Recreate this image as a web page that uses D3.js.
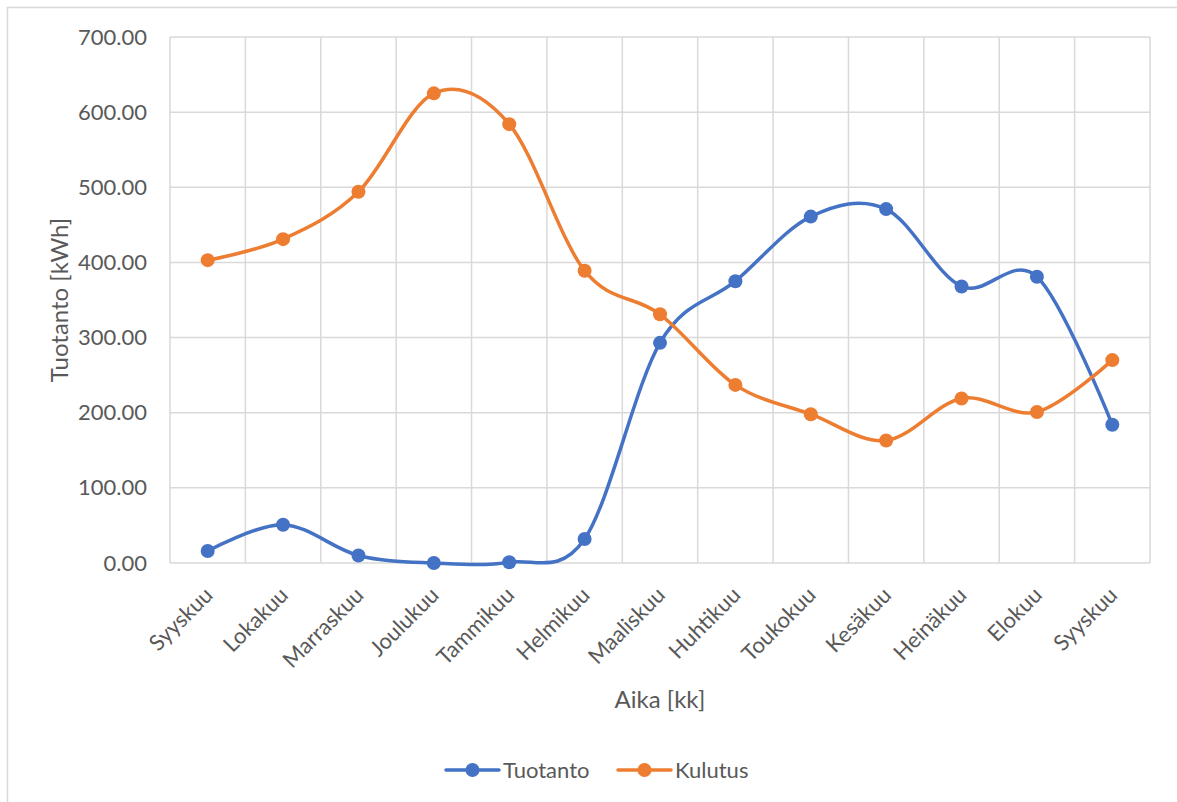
<!DOCTYPE html>
<html>
<head>
<meta charset="utf-8">
<script src="https://cdn.jsdelivr.net/npm/d3@7"></script>
<style>
  html, body { margin: 0; padding: 0; background: #fff; }
  svg { display: block; font-family: Lato, "Open Sans", sans-serif; }
</style>
</head>
<body>
<svg id="chart" width="1177" height="802"></svg>
<script>
// Monthly energy: production vs consumption (kWh)
const months = ["Syyskuu", "Lokakuu", "Marraskuu", "Joulukuu", "Tammikuu", "Helmikuu",
  "Maaliskuu", "Huhtikuu", "Toukokuu", "Kesäkuu", "Heinäkuu", "Elokuu", "Syyskuu"];
const tuotanto = [16, 51, 10, 0, 1, 32, 293, 375, 461, 471, 368, 381, 184];
const kulutus = [403, 431, 494, 625, 584, 389, 331, 237, 198, 163, 219, 201, 270];
const yTicks = [0, 100, 200, 300, 400, 500, 600, 700];
const seriesNames = ["Tuotanto", "Kulutus"];

const colors = { Tuotanto: "#4472C4", Kulutus: "#ED7D31" };
const textColor = "#595959";
const gridColor = "#d9d9d9";

const svg = d3.select("#chart");
const plot = { left: 170, right: 1150, top: 37, bottom: 563 };

// outer chart frame
svg.append("rect")
  .attr("x", 7.5).attr("y", 7.5)
  .attr("width", 1200).attr("height", 900)
  .attr("fill", "none").attr("stroke", gridColor).attr("stroke-width", 1.5);

const idx = months.map((m, i) => i);
const x = d3.scaleBand().domain(idx).range([plot.left, plot.right]).paddingInner(0).paddingOuter(0);
const y = d3.scaleLinear().domain([0, 700]).range([plot.bottom, plot.top]);
const cx = i => x(i) + x.bandwidth() / 2;

// horizontal grid
svg.append("g").selectAll("line").data(yTicks).join("line")
  .attr("x1", plot.left).attr("x2", plot.right)
  .attr("y1", d => y(d)).attr("y2", d => y(d))
  .attr("stroke", gridColor).attr("stroke-width", 1.5);

// vertical grid on category boundaries
const bounds = idx.map(i => x(i)).concat([plot.right]);
svg.append("g").selectAll("line").data(bounds).join("line")
  .attr("x1", d => d).attr("x2", d => d)
  .attr("y1", plot.top).attr("y2", plot.bottom)
  .attr("stroke", gridColor).attr("stroke-width", 1.5);

// y axis labels
const yAxis = d3.axisLeft(y).tickValues(yTicks).tickFormat(d3.format(".2f")).tickSize(0).tickPadding(23);
const gy = svg.append("g").attr("transform", `translate(${plot.left},0)`).call(yAxis);
gy.select(".domain").remove();
gy.selectAll("text").attr("fill", textColor).style("font-size", "22px")
  .style("font-family", "Lato, 'Open Sans', sans-serif");

// x axis labels (rotated)
const gx = svg.append("g");
gx.selectAll("text").data(idx).join("text")
  .attr("transform", i => `translate(${cx(i) + 1},${plot.bottom + 28}) rotate(-45)`)
  .attr("text-anchor", "end")
  .attr("dy", "0.35em")
  .attr("fill", textColor)
  .style("font-size", "22px")
  .text(i => months[i]);

// axis titles
svg.append("text")
  .attr("x", (plot.left + plot.right) / 2).attr("y", 708)
  .attr("text-anchor", "middle").attr("fill", textColor).style("font-size", "24px")
  .text("Aika [kk]");
svg.append("text")
  .attr("transform", `translate(68,${(plot.top + plot.bottom) / 2}) rotate(-90)`)
  .attr("text-anchor", "middle").attr("fill", textColor).style("font-size", "24px")
  .text("Tuotanto [kWh]");

// series
const line = d3.line().x((d, i) => cx(i)).y(d => y(d)).curve(d3.curveCardinal.tension(0));
const data = { Tuotanto: tuotanto, Kulutus: kulutus };
seriesNames.forEach(name => {
  const g = svg.append("g");
  g.append("path").datum(data[name])
    .attr("d", line).attr("fill", "none")
    .attr("stroke", colors[name]).attr("stroke-width", 3.5).attr("stroke-linecap", "round");
  g.selectAll("circle").data(data[name]).join("circle")
    .attr("cx", (d, i) => cx(i)).attr("cy", d => y(d)).attr("r", 7)
    .attr("fill", colors[name]);
});

// legend
const legendItems = [
  { name: "Tuotanto", x0: 446 },
  { name: "Kulutus", x0: 618 }
];
const lg = svg.append("g");
legendItems.forEach(it => {
  const yy = 770;
  lg.append("line").attr("x1", it.x0).attr("x2", it.x0 + 53).attr("y1", yy).attr("y2", yy)
    .attr("stroke", colors[it.name]).attr("stroke-width", 3.5).attr("stroke-linecap", "round");
  lg.append("circle").attr("cx", it.x0 + 26.5).attr("cy", yy).attr("r", 7).attr("fill", colors[it.name]);
  lg.append("text").attr("x", it.x0 + 57).attr("y", yy).attr("dy", "0.35em")
    .attr("fill", textColor).style("font-size", "22px").text(it.name);
});
</script>
</body>
</html>
